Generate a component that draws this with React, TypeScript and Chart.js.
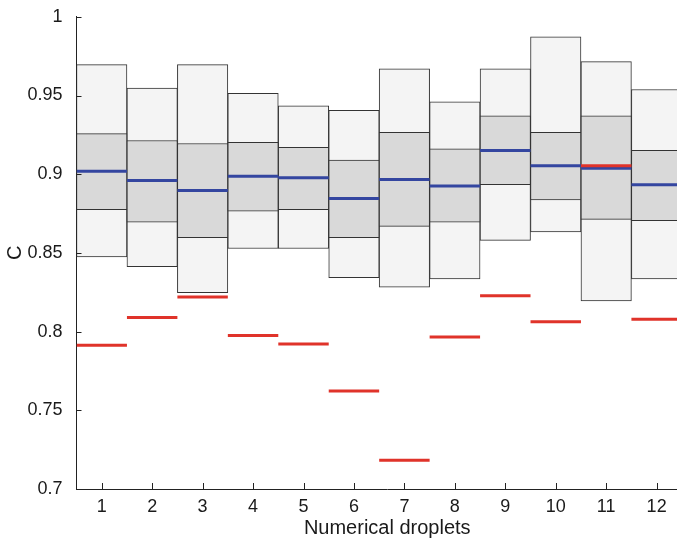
import React, { useEffect, useRef } from "react";
import { Chart, registerables } from "chart.js";

Chart.register(...registerables);

const categories = [1, 2, 3, 4, 5, 6, 7, 8, 9, 10, 11, 12];
const outerLow = [0.8475, 0.8413, 0.8247, 0.8528, 0.8528, 0.8343, 0.8283, 0.8335, 0.858, 0.8633, 0.8195, 0.8335];
const outerHigh = [0.9696, 0.9547, 0.9696, 0.9513, 0.9434, 0.9406, 0.967, 0.9459, 0.967, 0.9872, 0.9715, 0.9538];
const innerLow = [0.8774, 0.8696, 0.8597, 0.8765, 0.8774, 0.8597, 0.8669, 0.8696, 0.8933, 0.8836, 0.8713, 0.8704];
const innerHigh = [0.9258, 0.9214, 0.9195, 0.9203, 0.917, 0.909, 0.9266, 0.9161, 0.9371, 0.9266, 0.9371, 0.9151];
const medians = [0.9019, 0.896, 0.8897, 0.8987, 0.8977, 0.8845, 0.8966, 0.8925, 0.9151, 0.9054, 0.9038, 0.8933];
const referenceValues = [0.7914, 0.809, 0.822, 0.7975, 0.7922, 0.7623, 0.7182, 0.7966, 0.8228, 0.8063, 0.9054, 0.8079];
const yTicks = [0.7, 0.75, 0.8, 0.85, 0.9, 0.95, 1];
const xTitle = "Numerical droplets";
const yTitle = "C";

const FONT = "'Liberation Sans', Arial, Helvetica, sans-serif";
const TEXT = "#1a1a1a";

function segments(values: number[]) {
  const pts: { x: number; y: number | null }[] = [];
  categories.forEach((c, i) => {
    pts.push({ x: c - 0.5, y: values[i] });
    pts.push({ x: c + 0.5, y: values[i] });
    pts.push({ x: c + 0.5, y: null });
  });
  return pts;
}

const inwardTicks = {
  id: "inwardTicks",
  afterDraw(chart: any) {
    const { ctx, chartArea, scales } = chart;
    ctx.save();
    ctx.strokeStyle = "#222";
    ctx.lineWidth = 1;
    ctx.beginPath();
    scales.y.ticks.forEach((t: any) => {
      const py = Math.round(scales.y.getPixelForValue(t.value)) + 0.5;
      ctx.moveTo(chartArea.left, py);
      ctx.lineTo(chartArea.left + 5, py);
    });
    scales.x.ticks.forEach((t: any) => {
      const px = Math.round(scales.x.getPixelForValue(t.value)) + 0.5;
      ctx.moveTo(px, chartArea.bottom);
      ctx.lineTo(px, chartArea.bottom - 6);
    });
    ctx.stroke();
    ctx.restore();
  },
};

export default function App() {
  const ref = useRef<HTMLCanvasElement>(null);
  useEffect(() => {
    if (!ref.current) return;
    const chart = new Chart(ref.current, {
      type: "bar",
      data: {
        datasets: [
          {
            type: "bar",
            data: categories.map((c, i) => ({ x: c, y: [outerLow[i], outerHigh[i]] })) as any,
            backgroundColor: "#f4f4f4",
            borderColor: "#333",
            borderWidth: 1,
            borderSkipped: false,
            barPercentage: 1,
            categoryPercentage: 1,
            grouped: false,
            order: 4,
          } as any,
          {
            type: "bar",
            data: categories.map((c, i) => ({ x: c, y: [innerLow[i], innerHigh[i]] })) as any,
            backgroundColor: "#d9d9d9",
            borderColor: "#333",
            borderWidth: 1,
            borderSkipped: false,
            barPercentage: 1,
            categoryPercentage: 1,
            grouped: false,
            order: 3,
          } as any,
          {
            type: "line",
            data: segments(medians) as any,
            borderColor: "#3446a0",
            borderWidth: 3,
            pointRadius: 0,
            spanGaps: false,
            order: 2,
          } as any,
          {
            type: "line",
            data: segments(referenceValues) as any,
            borderColor: "#e0332a",
            borderWidth: 3,
            pointRadius: 0,
            spanGaps: false,
            order: 1,
          } as any,
        ],
      },
      options: {
        animation: false,
        responsive: false,
        layout: { padding: { top: 12, right: 2, left: 0, bottom: 0 } },
        plugins: { legend: { display: false }, tooltip: { enabled: false } },
        scales: {
          x: {
            type: "linear",
            min: 0.5,
            max: 12.82,
            offset: false,
            grid: { display: false, offset: false },
            border: { display: true, color: "#222", width: 1 },
            afterBuildTicks: (s: any) => {
              s.ticks = categories.map((v) => ({ value: v }));
            },
            afterFit: (s: any) => {
              s.height = 54;
            },
            ticks: {
              padding: -1,
              color: TEXT,
              font: { family: FONT, size: 18 },
              maxRotation: 0,
              autoSkip: false,
              callback: (v: any) => String(v),
            },
            title: {
              display: true,
              text: xTitle,
              color: TEXT,
              font: { family: FONT, size: 20 },
              padding: { top: 0, bottom: 3 },
            },
          },
          y: {
            type: "linear",
            min: 0.7,
            max: 1,
            grid: { display: false },
            border: { display: true, color: "#222", width: 1 },
            afterBuildTicks: (s: any) => {
              s.ticks = yTicks.map((v) => ({ value: v }));
            },
            afterFit: (s: any) => {
              s.width = 76.5;
            },
            ticks: {
              padding: 6,
              color: TEXT,
              font: { family: FONT, size: 18 },
              autoSkip: false,
              callback: (v: any) => String(Number(Number(v).toFixed(2))),
            },
            title: {
              display: true,
              text: yTitle,
              color: TEXT,
              font: { family: FONT, size: 20 },
              padding: { top: 3, bottom: 0 },
            },
          },
        },
      } as any,
      plugins: [inwardTicks],
    });
    return () => chart.destroy();
  }, []);

  return (
    <div
      style={{
        position: "fixed",
        left: 0,
        top: 0,
        width: 677,
        height: 543,
        overflow: "hidden",
        background: "#fff",
      }}
    >
      <canvas ref={ref} width={700} height={543} style={{ display: "block" }} />
    </div>
  );
}
